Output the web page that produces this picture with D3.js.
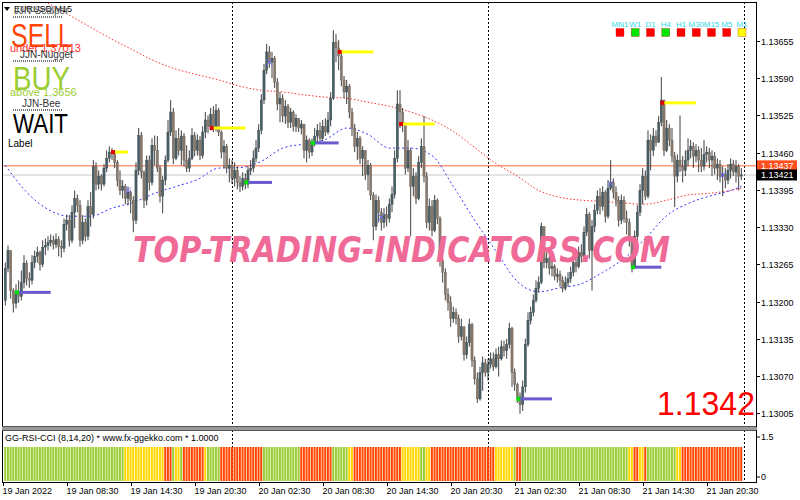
<!DOCTYPE html>
<html><head><meta charset="utf-8">
<script src="https://cdn.jsdelivr.net/npm/d3@7"></script>
<style>
body{margin:0;background:#fff}
svg{display:block}
text{font-family:"Liberation Sans",Arial,sans-serif}
</style>
</head><body>
<svg id="c" width="800" height="500"></svg>
<script>
// ---------------- DATA (EURUSD, M15) ----------------
const firstOpen = 1.13202;
const closes = [
1.13258,1.13289,1.13219,1.13197,1.13216,1.13209,1.13233,1.13267,1.13240,1.13237,
1.13268,1.13279,1.13286,1.13265,1.13295,1.13298,1.13303,1.13307,1.13300,1.13308,
1.13296,1.13293,1.13335,1.13342,1.13307,1.13356,1.13380,1.13368,1.13307,1.13338,
1.13314,1.13366,1.13352,1.13436,1.13405,1.13419,1.13405,1.13433,1.13450,1.13461,
1.13459,1.13443,1.13412,1.13394,1.13401,1.13380,1.13391,1.13377,1.13342,1.13429,
1.13490,1.13426,1.13377,1.13447,1.13408,1.13473,1.13464,1.13433,1.13384,1.13412,
1.13447,1.13496,1.13531,1.13450,1.13485,1.13464,1.13489,1.13447,1.13433,1.13450,
1.13490,1.13464,1.13482,1.13455,1.13496,1.13517,1.13506,1.13527,1.13503,1.13534,
1.13496,1.13461,1.13471,1.13433,1.13438,1.13415,1.13429,1.13408,1.13401,1.13415,
1.13405,1.13429,1.13433,1.13450,1.13468,1.13499,1.13552,1.13604,1.13636,1.13618,
1.13625,1.13583,1.13545,1.13555,1.13524,1.13541,1.13513,1.13531,1.13506,1.13520,
1.13503,1.13510,1.13464,1.13482,1.13461,1.13478,1.13489,1.13499,1.13485,1.13506,
1.13496,1.13517,1.13555,1.13653,1.13643,1.13629,1.13587,1.13566,1.13576,1.13531,
1.13503,1.13471,1.13485,1.13450,1.13464,1.13422,1.13438,1.13386,1.13331,1.13377,
1.13356,1.13338,1.13352,1.13345,1.13370,1.13387,1.13450,1.13545,1.13531,1.13510,
1.13433,1.13464,1.13401,1.13419,1.13380,1.13443,1.13471,1.13419,1.13338,1.13366,
1.13324,1.13377,1.13345,1.13272,1.13251,1.13212,1.13198,1.13170,1.13181,1.13170,
1.13139,1.13156,1.13107,1.13128,1.13160,1.13097,1.13065,1.13030,1.13076,1.13093,
1.13076,1.13090,1.13100,1.13086,1.13107,1.13100,1.13121,1.13114,1.13125,1.13153,
1.13076,1.13055,1.13034,1.13020,1.13051,1.13125,1.13167,1.13181,1.13202,1.13223,
1.13233,1.13331,1.13268,1.13275,1.13258,1.13261,1.13244,1.13247,1.13237,1.13223,
1.13233,1.13240,1.13251,1.13268,1.13261,1.13286,1.13279,1.13321,1.13352,1.13289,
1.13331,1.13359,1.13384,1.13366,1.13391,1.13349,1.13398,1.13408,1.13391,1.13377,
1.13342,1.13377,1.13345,1.13338,1.13307,1.13261,1.13314,1.13356,1.13394,1.13419,
1.13384,1.13482,1.13464,1.13489,1.13478,1.13513,1.13552,1.13464,1.13503,1.13482,
1.13454,1.13419,1.13447,1.13436,1.13429,1.13447,1.13464,1.13471,1.13454,1.13464,
1.13447,1.13436,1.13457,1.13461,1.13447,1.13454,1.13433,1.13440,1.13419,1.13422,
1.13412,1.13429,1.13440,1.13426,1.13436,1.13419,1.13421];
const highs = [
1.13268,1.13298,1.13281,1.13223,1.13230,1.13237,1.13254,1.13281,1.13272,1.13251,
1.13281,1.13289,1.13296,1.13289,1.13307,1.13310,1.13314,1.13317,1.13315,1.13319,
1.13314,1.13307,1.13345,1.13352,1.13351,1.13368,1.13394,1.13387,1.13377,1.13351,
1.13345,1.13377,1.13391,1.13447,1.13443,1.13429,1.13422,1.13440,1.13464,1.13471,
1.13468,1.13464,1.13447,1.13429,1.13412,1.13405,1.13401,1.13394,1.13384,1.13443,
1.13503,1.13496,1.13429,1.13455,1.13455,1.13485,1.13490,1.13489,1.13438,1.13419,
1.13455,1.13517,1.13552,1.13538,1.13499,1.13503,1.13499,1.13494,1.13473,1.13464,
1.13503,1.13496,1.13492,1.13489,1.13506,1.13531,1.13525,1.13538,1.13541,1.13545,
1.13538,1.13499,1.13482,1.13475,1.13450,1.13447,1.13443,1.13436,1.13419,1.13426,
1.13424,1.13436,1.13447,1.13464,1.13482,1.13510,1.13562,1.13615,1.13650,1.13646,
1.13636,1.13629,1.13590,1.13566,1.13562,1.13552,1.13545,1.13538,1.13534,1.13527,
1.13520,1.13517,1.13510,1.13490,1.13485,1.13485,1.13503,1.13510,1.13513,1.13517,
1.13520,1.13531,1.13566,1.13674,1.13667,1.13657,1.13636,1.13594,1.13587,1.13580,
1.13538,1.13510,1.13496,1.13489,1.13471,1.13464,1.13447,1.13442,1.13391,1.13387,
1.13384,1.13363,1.13363,1.13366,1.13380,1.13401,1.13464,1.13569,1.13569,1.13538,
1.13513,1.13482,1.13468,1.13433,1.13426,1.13454,1.13485,1.13524,1.13426,1.13380,
1.13377,1.13386,1.13380,1.13349,1.13279,1.13258,1.13223,1.13209,1.13191,1.13188,
1.13177,1.13170,1.13153,1.13139,1.13170,1.13163,1.13104,1.13076,1.13086,1.13104,
1.13100,1.13100,1.13111,1.13111,1.13118,1.13121,1.13132,1.13132,1.13135,1.13163,
1.13156,1.13083,1.13058,1.13041,1.13062,1.13135,1.13181,1.13191,1.13212,1.13237,
1.13244,1.13338,1.13331,1.13286,1.13279,1.13272,1.13265,1.13258,1.13254,1.13244,
1.13244,1.13251,1.13261,1.13279,1.13279,1.13296,1.13300,1.13331,1.13363,1.13356,
1.13342,1.13370,1.13394,1.13398,1.13401,1.13394,1.13412,1.13447,1.13415,1.13401,
1.13384,1.13387,1.13384,1.13359,1.13345,1.13314,1.13324,1.13368,1.13405,1.13433,
1.13429,1.13499,1.13492,1.13503,1.13499,1.13524,1.13592,1.13552,1.13517,1.13510,
1.13503,1.13461,1.13457,1.13525,1.13454,1.13464,1.13485,1.13482,1.13478,1.13475,
1.13471,1.13468,1.13482,1.13471,1.13468,1.13464,1.13461,1.13450,1.13447,1.13436,
1.13433,1.13440,1.13450,1.13447,1.13447,1.13440,1.13433];
const lows = [
1.13193,1.13251,1.13205,1.13181,1.13188,1.13198,1.13202,1.13223,1.13228,1.13224,
1.13230,1.13258,1.13268,1.13254,1.13260,1.13281,1.13289,1.13296,1.13291,1.13293,
1.13279,1.13277,1.13286,1.13324,1.13296,1.13302,1.13328,1.13356,1.13296,1.13300,
1.13305,1.13307,1.13331,1.13345,1.13394,1.13396,1.13394,1.13401,1.13426,1.13443,
1.13447,1.13433,1.13401,1.13386,1.13380,1.13370,1.13368,1.13354,1.13321,1.13335,
1.13421,1.13415,1.13363,1.13368,1.13394,1.13403,1.13438,1.13426,1.13373,1.13354,
1.13403,1.13443,1.13489,1.13440,1.13447,1.13455,1.13438,1.13436,1.13426,1.13426,
1.13447,1.13454,1.13455,1.13447,1.13450,1.13485,1.13494,1.13499,1.13496,1.13497,
1.13489,1.13450,1.13433,1.13424,1.13408,1.13405,1.13401,1.13396,1.13391,1.13394,
1.13396,1.13398,1.13421,1.13426,1.13443,1.13461,1.13492,1.13545,1.13597,1.13608,
1.13590,1.13573,1.13534,1.13513,1.13513,1.13510,1.13503,1.13503,1.13497,1.13496,
1.13496,1.13492,1.13450,1.13443,1.13450,1.13454,1.13471,1.13478,1.13478,1.13480,
1.13489,1.13492,1.13506,1.13552,1.13618,1.13604,1.13576,1.13555,1.13545,1.13520,
1.13489,1.13461,1.13447,1.13440,1.13419,1.13412,1.13394,1.13377,1.13307,1.13324,
1.13338,1.13324,1.13328,1.13331,1.13338,1.13356,1.13380,1.13443,1.13503,1.13496,
1.13422,1.13426,1.13314,1.13384,1.13370,1.13377,1.13433,1.13408,1.13328,1.13324,
1.13314,1.13321,1.13335,1.13261,1.13233,1.13202,1.13184,1.13156,1.13163,1.13160,
1.13128,1.13132,1.13097,1.13100,1.13121,1.13086,1.13055,1.13023,1.13027,1.13044,
1.13069,1.13062,1.13083,1.13079,1.13083,1.13069,1.13097,1.13104,1.13100,1.13118,
1.13051,1.13044,1.13023,1.13004,1.13009,1.13041,1.13121,1.13160,1.13174,1.13198,
1.13216,1.13230,1.13258,1.13258,1.13247,1.13244,1.13237,1.13233,1.13226,1.13216,
1.13219,1.13226,1.13233,1.13244,1.13251,1.13258,1.13268,1.13272,1.13314,1.13275,
1.13219,1.13321,1.13352,1.13352,1.13359,1.13338,1.13345,1.13394,1.13380,1.13366,
1.13331,1.13335,1.13338,1.13317,1.13296,1.13251,1.13258,1.13303,1.13349,1.13370,
1.13377,1.13380,1.13429,1.13454,1.13471,1.13482,1.13506,1.13454,1.13461,1.13471,
1.13443,1.13365,1.13408,1.13426,1.13408,1.13419,1.13436,1.13450,1.13433,1.13443,
1.13426,1.13426,1.13429,1.13443,1.13433,1.13419,1.13422,1.13412,1.13408,1.13384,
1.13398,1.13405,1.13415,1.13419,1.13408,1.13394,1.13412];

// moving averages sampled at these bars
const maBars = [0,8,16,24,32,40,48,56,64,72,80,88,96,104,112,120,128,136,144,152,160,168,176,184,192,200,208,216,224,232,240,248,256,264,272,276];
const slowMA = [null,1.13743,1.13721,1.13700,1.13679,1.13658,1.13639,1.13620,1.13606,1.13596,1.13587,1.13576,1.13569,1.13566,1.13561,1.13557,1.13555,1.13548,1.13541,1.13531,1.13517,1.13497,1.13469,1.13441,1.13419,1.13394,1.13382,1.13377,1.13375,1.13372,1.13370,1.13377,1.13386,1.13389,1.13394,1.13398];
const fastMA = [1.13438,1.13391,1.13361,1.13349,1.13349,1.13363,1.13373,1.13389,1.13401,1.13413,1.13433,1.13434,1.13445,1.13468,1.13475,1.13483,1.13503,1.13492,1.13468,1.13468,1.13455,1.13401,1.13342,1.13288,1.13235,1.13217,1.13224,1.13231,1.13251,1.13275,1.13310,1.13350,1.13371,1.13384,1.13394,1.13401];

// signals
const sigBar   = [4, 40, 77, 90, 115, 125, 148, 192, 235, 246];
const sigPrice = [1.13216,1.13461,1.13503,1.13408,1.13477,1.13636,1.13510,1.13030,1.13260,1.13547];
const sigType  = ["buy","sell","sell","buy","buy","sell","sell","buy","buy","sell"];
const sigLen   = [13, 6, 13, 10, 10, 13, 13, 13, 11, 13];

// fractal crosses
const fracBar = [46, 99, 141, 227, 269];
const fracPrice = [1.13394, 1.13618, 1.13347, 1.13406, 1.13421];

// levels
const levelPrice = 1.13437;
const bidPrice = 1.13421;
const priceTicks = [1.13655,1.13590,1.13525,1.13460,1.13395,1.13330,1.13265,1.13200,1.13135,1.13070,1.13005];

// time axis
const timeBars = [0,23,47,71,95,119,143,167,191,215,239,263];
const timeLabels = ["19 Jan 2022","19 Jan 08:30","19 Jan 14:30","19 Jan 20:30","20 Jan 02:30","20 Jan 08:30","20 Jan 14:30","20 Jan 20:30","21 Jan 02:30","21 Jan 08:30","21 Jan 14:30","21 Jan 20:30"];
const daySeparators = [85, 181, 277];

// GG-RSI-CCI state per bar (run lengths)
const rsiCciRuns = [["g",45],["y",15],["r",3],["g",1],["y",2],["g",1],["r",8],["y",1],["g",5],["r",16],["g",14],["r",12],["g",6],["y",2],["r",18],["y",7],["g",2],["y",2],["r",24],["y",7],["g",1],["r",2],["g",40],["y",2],["r",2],["y",2],["r",1],["g",11],["y",2],["r",23]];
const indTicks = [1.5, 0];

// multi-timeframe panel
const tfLabels = ["MN1","W1","D1","H4","H1","M30","M15","M5","M1"];
const tfState  = ["r","g","r","g","r","r","r","r","y"];

// ---------------- DRAW ----------------
const svg = d3.select("#c");
const L = 2, R = 756, T = 2, MB = 428, IT = 431, IB = 482;
const x = d3.scaleLinear().domain([-0.5, 281.5]).range([4, 756]);
const y = d3.scaleLinear().domain([1.13005, 1.13655]).range([413.2, 41]);
const yi = d3.scaleLinear().domain([0, 1.5]).range([481, 430]);

svg.append("rect").attr("width",800).attr("height",500).attr("fill","#fff");
const defs = svg.append("defs");
defs.append("clipPath").attr("id","mainClip").append("rect")
  .attr("x",L+1).attr("y",T+1).attr("width",R-L-1).attr("height",MB-T-2);

// day separators
svg.append("g").selectAll("line").data(daySeparators).join("line")
  .attr("x1",d=>Math.round(x(d))+0.5).attr("x2",d=>Math.round(x(d))+0.5)
  .attr("y1",T).attr("y2",IB)
  .attr("stroke","#000").attr("stroke-width",1).attr("stroke-dasharray","2,2");

const main = svg.append("g").attr("clip-path","url(#mainClip)");

// level lines
main.append("line").attr("x1",L).attr("x2",R).attr("y1",y(levelPrice)).attr("y2",y(levelPrice))
  .attr("stroke","#ff6a3a").attr("stroke-width",1);
main.append("line").attr("x1",L).attr("x2",R).attr("y1",y(bidPrice)).attr("y2",y(bidPrice))
  .attr("stroke","#c8c8c8").attr("stroke-width",1);

// moving averages
const maData = maBars.map((b,i)=>({b, s:slowMA[i], f:fastMA[i]}));
main.append("path").datum(maData.filter(d=>d.s!=null))
  .attr("d", d3.line().x(d=>x(d.b)).y(d=>y(d.s)).curve(d3.curveMonotoneX))
  .attr("fill","none").attr("stroke","#ff3030").attr("stroke-width",1).attr("stroke-dasharray","1.5,2");
main.append("path").datum(maData)
  .attr("d", d3.line().x(d=>x(d.b)).y(d=>y(d.f)).curve(d3.curveMonotoneX))
  .attr("fill","none").attr("stroke","#3535ff").attr("stroke-width",1).attr("stroke-dasharray","2,2.5");

// candles
const bars = closes.map((c,i)=>{
  const o = i ? closes[i-1] : firstOpen;
  return {i, o, c, h:Math.max(highs[i],o,c), l:Math.min(lows[i],o,c)};
});
const cg = main.append("g");
cg.selectAll("line").data(bars).join("line")
  .attr("x1",d=>x(d.i)).attr("x2",d=>x(d.i))
  .attr("y1",d=>y(d.h)).attr("y2",d=>y(d.l))
  .attr("stroke","#2a2a2a").attr("stroke-width",0.9);
cg.selectAll("rect").data(bars).join("rect")
  .attr("x",d=>x(d.i)-1.1).attr("width",2.2)
  .attr("y",d=>y(Math.max(d.o,d.c)))
  .attr("height",d=>Math.max(1, Math.abs(y(d.o)-y(d.c))))
  .attr("fill",d=>d.c>=d.o ? "#4a5e63" : "#87796c")
  .attr("stroke",d=>d.c>=d.o ? "#34454a" : "#6e6258").attr("stroke-width",0.4);

// fractal crosses
const fg = main.append("g").attr("stroke","#6a6aff").attr("stroke-width",1);
fracBar.forEach((b,i)=>{
  const cx=x(b), cy=y(fracPrice[i]);
  fg.append("line").attr("x1",cx-3).attr("x2",cx+3).attr("y1",cy-3).attr("y2",cy+3);
  fg.append("line").attr("x1",cx-3).attr("x2",cx+3).attr("y1",cy+3).attr("y2",cy-3);
});

// signals
sigBar.forEach((b,i)=>{
  const buy = sigType[i]==="buy";
  const yy = y(sigPrice[i]);
  main.append("rect").attr("x",x(b)).attr("y",yy-1.5).attr("width",x(b+sigLen[i])-x(b)).attr("height",3)
    .attr("fill", buy ? "#6a5acd" : "#ffff00");
  main.append("rect").attr("x",x(b)-1).attr("y",yy-2).attr("width",4).attr("height",4)
    .attr("fill", buy ? "#00e000" : "#e00000");
});

// watermark
main.append("text").attr("x",133).attr("y",262)
  .attr("textLength",537).attr("lengthAdjust","spacingAndGlyphs")
  .style("font-family","'DejaVu Sans'").style("font-weight","bold").style("font-style","italic")
  .style("font-size","35px").attr("fill","#ef6a97").text("TOP-TRADING-INDICATORS.COM");

// big price
svg.append("text").attr("x",755).attr("y",415).attr("text-anchor","end")
  .attr("textLength",98).attr("lengthAdjust","spacingAndGlyphs")
  .style("font-size","34px").attr("fill","#ff0000").text(d3.format(".4f")(bidPrice));

// frame
svg.append("line").attr("x1",L+0.5).attr("x2",L+0.5).attr("y1",T).attr("y2",IB).attr("stroke","#000");
svg.append("line").attr("x1",R+0.5).attr("x2",R+0.5).attr("y1",T).attr("y2",IB+0.5).attr("stroke","#000");
svg.append("line").attr("x1",L).attr("x2",R).attr("y1",T+0.5).attr("y2",T+0.5).attr("stroke","#000");
svg.append("rect").attr("x",L).attr("y",MB-1).attr("width",R-L+1).attr("height",3).attr("fill","#9a9a9a");
svg.append("line").attr("x1",L).attr("x2",R).attr("y1",MB-1.5).attr("y2",MB-1.5).attr("stroke","#555");
svg.append("line").attr("x1",L).attr("x2",R).attr("y1",IT-0.5).attr("y2",IT-0.5).attr("stroke","#555");
svg.append("line").attr("x1",L).attr("x2",R+1).attr("y1",IB+0.5).attr("y2",IB+0.5).attr("stroke","#000");

// price axis
const pa = svg.append("g");
priceTicks.forEach(p=>{
  const yy = Math.round(y(p))+0.5;
  pa.append("line").attr("x1",R).attr("x2",R+4).attr("y1",yy).attr("y2",yy).attr("stroke","#000");
  pa.append("text").attr("x",761).attr("y",yy+3).style("font-size","9px").attr("fill","#000").text(d3.format(".5f")(p));
});
// price boxes
[[levelPrice,"#ff4f1f"],[bidPrice,"#000"]].forEach(([p,col])=>{
  const yy=y(p);
  svg.append("rect").attr("x",757).attr("y",yy-5.5).attr("width",40).attr("height",11).attr("fill",col);
  svg.append("text").attr("x",761).attr("y",yy+3).style("font-size","9px").attr("fill","#fff").text(d3.format(".5f")(p));
});

// indicator panel
const states=[]; rsiCciRuns.forEach(([s,n])=>{for(let k=0;k<n;k++)states.push(s);});
const colr={g:"#9acd32",y:"#ffd700",r:"#ff4500"};
svg.append("g").selectAll("rect").data(states).join("rect")
  .attr("x",(d,i)=>x(i)-1.1).attr("width",2.0)
  .attr("y",yi(1)).attr("height",yi(0)-yi(1))
  .attr("fill",d=>colr[d]);
svg.append("text").attr("x",5).attr("y",441).style("font-size","9px").attr("fill","#000")
  .text("GG-RSI-CCI (8,14,20) * www.fx-ggekko.com *  1.0000");
indTicks.forEach(v=>{
  const yy = Math.min(Math.max(yi(v),437),477);
  svg.append("line").attr("x1",R).attr("x2",R+4).attr("y1",yy).attr("y2",yy).attr("stroke","#000");
  svg.append("text").attr("x",761).attr("y",yy+3).style("font-size","9px").attr("fill","#000").text(v);
});

// time axis
timeBars.forEach((b,i)=>{
  const xx = Math.round(b===0 ? 3 : x(b))+0.5;
  svg.append("line").attr("x1",xx).attr("x2",xx).attr("y1",IB).attr("y2",IB+4).attr("stroke","#000");
  svg.append("text").attr("x",xx-1).attr("y",494).style("font-size","9px").attr("fill","#000").text(timeLabels[i]);
});

// multi-timeframe squares
const tfColor={r:"#ff0000",g:"#00e600",y:"#ffff00"};
const tfX = d3.scalePoint().domain(tfLabels).range([620,742]);
tfLabels.forEach((t,i)=>{
  svg.append("text").attr("x",tfX(t)).attr("y",27).attr("text-anchor","middle")
    .style("font-size","8px").attr("fill","#2fd8e8").text(t);
  svg.append("rect").attr("x",tfX(t)-4).attr("y",28.5).attr("width",8).attr("height",8)
    .attr("fill",tfColor[tfState[i]]).attr("stroke","#b00000").attr("stroke-width",0.3);
});

// top-left info block
const info = svg.append("g");
info.append("path").attr("d","M4,7 L10,7 L7,11 Z").attr("fill","#000");
info.append("text").attr("x",14).attr("y",12).style("font-size","9px").attr("fill","#000").text("EURUSD,M15");
info.append("text").attr("x",14).attr("y",14).style("font-size","10px").attr("fill","#555").text("JJN-Scalper");
[17,61,110].forEach(yy=>info.append("line").attr("x1",13).attr("x2",63).attr("y1",yy).attr("y2",yy)
  .attr("stroke","#777").attr("stroke-width",2).attr("stroke-dasharray","1,1"));
info.append("text").attr("x",11).attr("y",47).attr("textLength",61).attr("lengthAdjust","spacingAndGlyphs")
  .style("font-size","34px").attr("fill","#ff4500").text("SELL");
info.append("text").attr("x",10).attr("y",52).style("font-size","11px").attr("fill","#ff3030").text("under 1.37013");
info.append("text").attr("x",20).attr("y",58).style("font-size","10px").attr("fill","#333").text("JJN-Nugget");
info.append("text").attr("x",13).attr("y",90).attr("textLength",57).attr("lengthAdjust","spacingAndGlyphs")
  .style("font-size","33px").attr("fill","#9acd32").text("BUY");
info.append("text").attr("x",10).attr("y",96).style("font-size","11px").attr("fill","#9acd32").text("above 1.3656");
info.append("text").attr("x",22).attr("y",107).style("font-size","10px").attr("fill","#333").text("JJN-Bee");
info.append("text").attr("x",13).attr("y",133).attr("textLength",55).attr("lengthAdjust","spacingAndGlyphs")
  .style("font-size","28px").attr("fill","#000").text("WAIT");
info.append("text").attr("x",8).attr("y",147).style("font-size","10px").attr("fill","#000").text("Label");
</script>
</body></html>
